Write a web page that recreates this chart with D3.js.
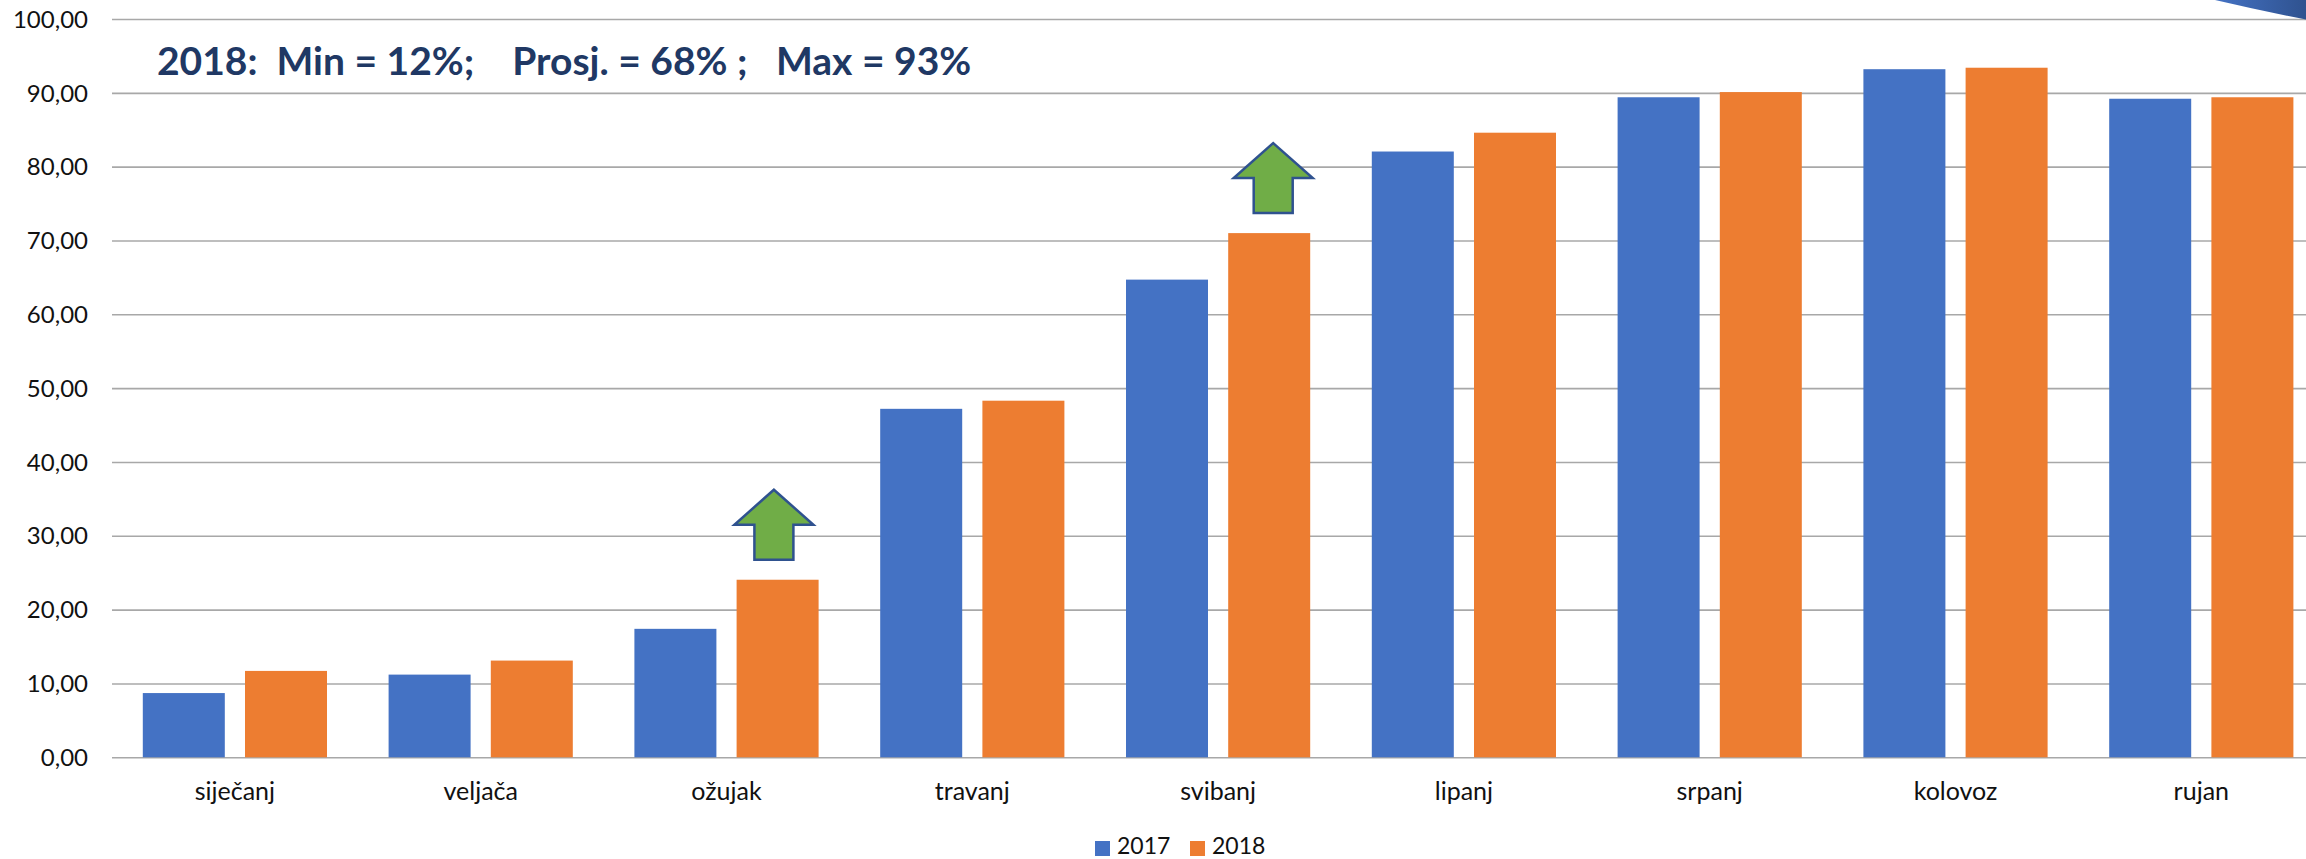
<!DOCTYPE html>
<html>
<head>
<meta charset="utf-8">
<script src="https://cdnjs.cloudflare.com/ajax/libs/d3/7.8.5/d3.min.js"></script>
<style>
html,body{margin:0;padding:0;background:#fff;overflow:hidden}
svg{display:block}
text{font-family:Lato,"Open Sans",sans-serif}
</style>
</head>
<body>
<svg id="chart" width="2306" height="859"></svg>
<script>
const months = ["siječanj","veljača","ožujak","travanj","svibanj","lipanj","srpanj","kolovoz","rujan"];
const seriesNames = ["2017","2018"];
const values2017 = [8.7,11.2,17.4,47.2,64.7,82.05,89.4,93.2,89.2];
const values2018 = [11.7,13.1,24.05,48.3,71.0,84.6,90.1,93.4,89.4];
const yTicks = [0,10,20,30,40,50,60,70,80,90,100];
const arrowMonths = ["ožujak","svibanj"];
const arrowShift = [-3.7,4];
const headline = "2018:  Min = 12%;    Prosj. = 68% ;   Max = 93%";
const colors = ["#4472c4","#ed7d31"];

const svg = d3.select("#chart");
const left = 112, bandW = 245.8;
const x = d3.scaleBand().domain(months).range([left, left + bandW*months.length]);
const y = d3.scaleLinear().domain([0,100]).range([757.3,19]);
const fmt = d => d.toFixed(2).replace(".",",");

// gridlines and value axis
const yAxis = d3.axisLeft(y).tickValues(yTicks).tickFormat(fmt).tickSize(-(2306-left)).tickPadding(24);
const gy = svg.append("g").attr("transform",`translate(${left},0)`).call(yAxis);
gy.select(".domain").remove();
gy.selectAll("line").attr("stroke","#a8a8a8").attr("stroke-width",1.6);
gy.selectAll("text").attr("font-size",24).attr("fill","#111").attr("dy","0.34em");

// bars
const barW = 82, gap = 20.2;
const series = [values2017, values2018];
series.forEach((vals,si)=>{
  svg.append("g").selectAll("rect").data(months).join("rect")
    .attr("x",d=>x(d)+bandW/2-barW-gap/2+si*(barW+gap))
    .attr("width",barW)
    .attr("y",(d,i)=>y(vals[i]))
    .attr("height",(d,i)=>y(0)-y(vals[i]))
    .attr("fill",colors[si]);
});

// category labels
const gx = svg.append("g").attr("transform",`translate(0,${y(0)})`)
  .call(d3.axisBottom(x).tickSize(0).tickPadding(25));
gx.select(".domain").remove();
gx.selectAll("text").attr("font-size",25).attr("fill","#111");

// headline
svg.append("text").attr("x",157).attr("y",75).attr("font-size",39).attr("font-weight",700)
  .attr("fill","#203864").attr("xml:space","preserve").style("white-space","pre").text(headline);

// arrows, anchored above the 2018 bar of their month
const arrow = d3.line();
arrowMonths.forEach((m,k)=>{
  const i = months.indexOf(m);
  const cx = x(m)+bandW/2+gap/2+barW/2+arrowShift[k];
  const base = y(values2018[i])-20;
  const pts = [[0,-70],[39.5,-35],[19.5,-35],[19.5,0],[-19.5,0],[-19.5,-35],[-39.5,-35]]
    .map(p=>[cx+p[0],base+p[1]]);
  svg.append("path").attr("d",arrow(pts)+"Z").attr("fill","#70ad47")
    .attr("stroke","#2f528f").attr("stroke-width",2.5);
});

// legend
const legend = svg.append("g");
seriesNames.forEach((n,i)=>{
  const lx = 1095 + i*95;
  legend.append("rect").attr("x",lx).attr("y",841).attr("width",15).attr("height",15).attr("fill",colors[i]);
  legend.append("text").attr("x",lx+22).attr("y",854).attr("font-size",23).attr("fill","#111").text(n);
});

// cropped shape in the top right corner
const grad = svg.append("defs").append("linearGradient").attr("id","wedge");
grad.append("stop").attr("offset","0").attr("stop-color","#4472c4");
grad.append("stop").attr("offset","1").attr("stop-color","#2f528f");
svg.append("path").attr("d","M2215,0L2306,0L2306,19.5Q2262,11 2215,0Z").attr("fill","url(#wedge)");
</script>
</body>
</html>
